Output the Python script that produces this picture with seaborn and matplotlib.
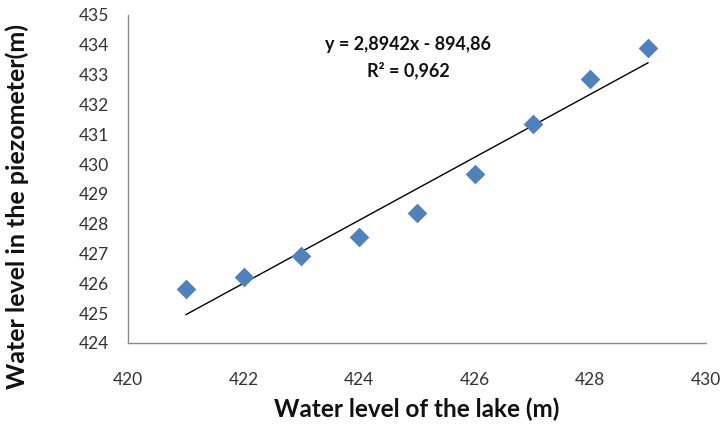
import numpy as np
import pandas as pd
import matplotlib
matplotlib.use("Agg")
import matplotlib.pyplot as plt
import seaborn as sns

# Data
lake_level = [421, 422, 423, 424, 425, 426, 427, 428, 429]
piezo_level = [425.8, 426.2, 426.9, 427.55, 428.35, 429.65, 431.35, 432.85, 433.9]
x_ticks = [420, 422, 424, 426, 428, 430]
y_ticks = list(range(424, 436))
equation_text = "y = 2,8942x - 894,86"
r2_text = "R² = 0,962"

df = pd.DataFrame({"lake": lake_level, "piezo": piezo_level})

sns.set_theme(style="white")
plt.rcParams["font.family"] = ["Lato", "DejaVu Sans"]

fig = plt.figure(figsize=(7.24, 4.38), dpi=100)
ax = fig.add_axes([0.177, 0.217, 0.798, 0.749])

# Linear trend line (fit over data range)
sns.regplot(data=df, x="lake", y="piezo", ax=ax, scatter=False, ci=None,
            truncate=True, line_kws={"color": "black", "linewidth": 1.0})

sns.scatterplot(data=df, x="lake", y="piezo", ax=ax, marker="D", s=100,
                color="#4F81BD", edgecolor="#4F81BD", linewidth=0, zorder=3)

ax.set_xlim(420, 430)
ax.set_ylim(424, 435)
ax.set_xticks(x_ticks)
ax.set_yticks(y_ticks)

for side in ["top", "right"]:
    ax.spines[side].set_visible(False)
for side in ["left", "bottom"]:
    ax.spines[side].set_color("#8c8c8c")
    ax.spines[side].set_linewidth(1.0)

ax.tick_params(axis="both", colors="#8c8c8c", labelcolor="#333333",
               labelsize=12.5, length=4, width=1.0, direction="out")
ax.tick_params(axis="x", pad=17)
ax.tick_params(axis="y", pad=10)

ax.set_xlabel("Water level of the lake (m)", fontsize=17.5, fontweight="bold",
              color="#111111")
ax.set_ylabel("Water level in the piezometer(m)", fontsize=18, fontweight="bold",
              color="#111111")
ax.xaxis.set_label_coords(0.5, -0.165)
ax.yaxis.set_label_coords(-0.172, 0.415)

ax.text(0.485, 0.909, equation_text, transform=ax.transAxes, ha="center", va="center",
        fontsize=13, fontweight="bold", color="#111111")
ax.text(0.485, 0.832, r2_text, transform=ax.transAxes, ha="center", va="center",
        fontsize=13, fontweight="bold", color="#111111")

fig.savefig("out.png", dpi=100)
